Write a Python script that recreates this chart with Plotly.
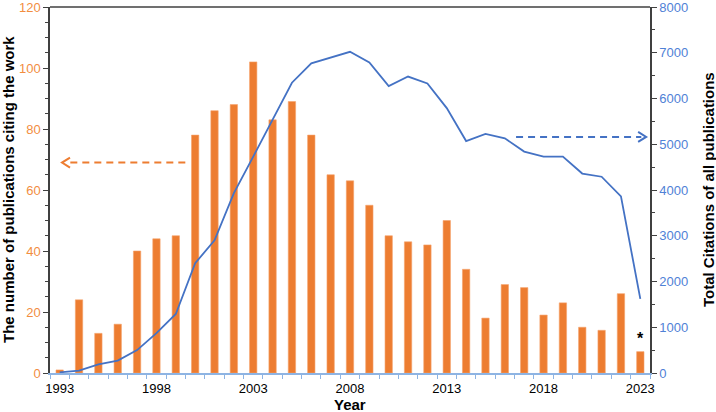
import plotly.graph_objects as go

years = list(range(1993, 2024))
publications = [1, 24, 13, 16, 40, 44, 45, 78, 86, 88, 102, 83, 89, 78, 65,
                63, 55, 45, 43, 42, 50, 34, 18, 29, 28, 19, 23, 15, 14, 26, 7]
total_citations = [15, 50, 190, 270, 500, 870, 1290, 2400, 2900, 3930, 4730,
                   5530, 6345, 6770, 6900, 7020, 6790, 6270, 6480, 6330, 5790,
                   5070, 5225, 5130, 4840, 4730, 4730, 4360, 4290, 3860, 1620]
x_tick_years = [1993, 1998, 2003, 2008, 2013, 2018, 2023]

ORANGE = "#ED7D31"
ORANGE_TXT = "#F28E3F"
BLUE = "#4472C4"
BLUE_TXT = "#4F81D6"
AXIS_GRAY = "#404040"
FONT = "Arial, Liberation Sans, sans-serif"

fig = go.Figure()
fig.add_trace(go.Bar(x=years, y=publications, width=0.38,
                     marker=dict(color=ORANGE, line=dict(color="#F5A26B", width=0.6)),
                     yaxis="y", showlegend=False))
fig.add_trace(go.Scatter(x=years, y=total_citations, mode="lines",
                         line=dict(color=BLUE, width=1.8),
                         yaxis="y2", showlegend=False))

# dashed arrows
fig.add_shape(type="line", xref="x", yref="y", x0=1993.55, x1=1999.62, y0=69, y1=69,
              line=dict(color=ORANGE, width=2, dash="7px,5px"))
fig.add_shape(type="path", xref="x", yref="y", xsizemode="pixel", ysizemode="pixel",
              xanchor=1993.12, yanchor=69, path="M 8,-5 L 0,0 L 8,5",
              line=dict(color=ORANGE, width=2))
fig.add_shape(type="line", xref="x", yref="y2", x0=2016.58, x1=2023.05, y0=5160, y1=5160,
              line=dict(color=BLUE, width=2, dash="7px,5px"))
fig.add_shape(type="path", xref="x", yref="y2", xsizemode="pixel", ysizemode="pixel",
              xanchor=2023.3, yanchor=5160, path="M -8,-5 L 0,0 L -8,5",
              line=dict(color=BLUE, width=2))
# top frame
fig.add_shape(type="line", xref="paper", yref="paper", x0=0, x1=1, y0=1, y1=1,
              line=dict(color=AXIS_GRAY, width=1.5))

fig.add_annotation(x=2023, y=8, xref="x", yref="y", text="<b>*</b>", showarrow=False,
                   font=dict(family=FONT, size=16, color="black"),
                   xanchor="center", yanchor="bottom")

fig.add_annotation(x=-0.07, y=0.5, xref="paper", yref="paper", textangle=-90,
                   xanchor="center", yanchor="middle",
                   text="<b>The number of publications citing the work</b>", showarrow=False,
                   font=dict(family=FONT, size=15, color="black"))
fig.add_annotation(x=1.0967, y=0.5, xref="paper", yref="paper", textangle=-90,
                   xanchor="center", yanchor="middle",
                   text="<b>Total Citations of all publications</b>", showarrow=False,
                   font=dict(family=FONT, size=15, color="black"))
fig.add_annotation(x=0.5, y=-0.085, xref="paper", yref="paper",
                   xanchor="center", yanchor="middle",
                   text="<b>Year</b>", showarrow=False,
                   font=dict(family=FONT, size=15, color="black"))

fig.update_layout(
    width=716, height=412,
    margin=dict(l=50, r=66, t=7, b=39),
    paper_bgcolor="white", plot_bgcolor="white",
    font=dict(family=FONT, size=13, color="black"),
    bargap=0.6,
    xaxis=dict(range=[1992.5, 2023.5], tickvals=x_tick_years, ticks="",
               showline=True, linecolor="#8EB4E3", linewidth=1.5,
               showgrid=False, zeroline=False, ticklabelstandoff=3,
               ticklabeloverflow="allow",
               tickfont=dict(size=13, color="black"),
               minor=dict(tick0=1992.5, dtick=1, ticks="outside", ticklen=4,
                          tickcolor="#8EB4E3", tickwidth=1.2, showgrid=False),
               automargin=False),
    yaxis=dict(range=[0, 120], dtick=20, ticks="outside", ticklen=5,
               tickcolor=AXIS_GRAY, showline=True, linecolor=AXIS_GRAY, linewidth=1.5,
               showgrid=False, zeroline=False, ticklabeloverflow="allow",
               tickfont=dict(size=13, color=ORANGE_TXT),
               minor=dict(dtick=5, ticks="outside", ticklen=3, tickcolor=AXIS_GRAY,
                          showgrid=False),
               automargin=False),
    yaxis2=dict(range=[0, 8000], dtick=1000, ticks="outside", ticklen=5,
                tickcolor=AXIS_GRAY, showline=True, linecolor=AXIS_GRAY, linewidth=1.5,
                showgrid=False, zeroline=False, overlaying="y", side="right",
                ticklabeloverflow="allow",
                tickfont=dict(size=13, color=BLUE_TXT),
                minor=dict(dtick=500, ticks="outside", ticklen=3, tickcolor=AXIS_GRAY,
                           showgrid=False),
                automargin=False),
)

fig.write_html("out.html", config={"displayModeBar": False},
               post_script="document.body.style.margin='0px';")
